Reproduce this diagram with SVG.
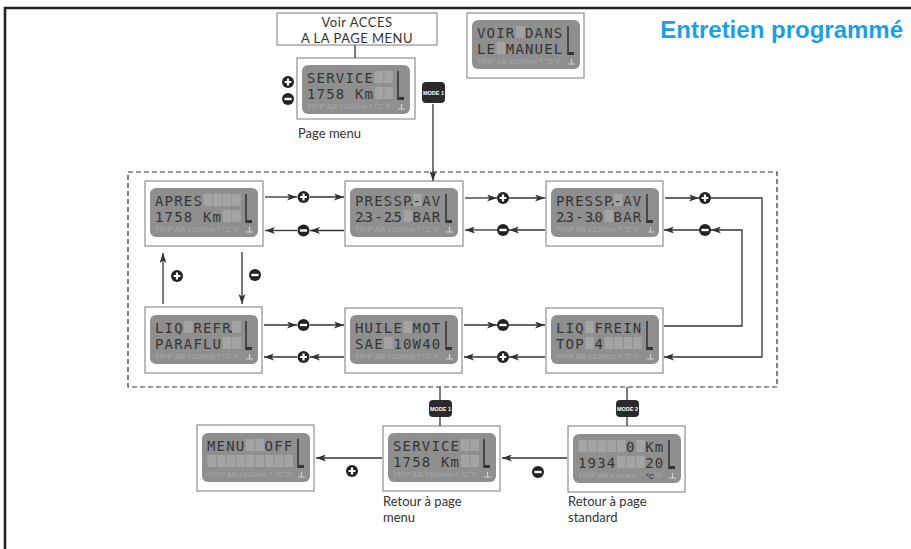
<svg xmlns="http://www.w3.org/2000/svg" xmlns:xlink="http://www.w3.org/1999/xlink" width="911" height="549" viewBox="0 0 911 549">
<style>
.frame{fill:#fff;stroke:#7a7a7a;stroke-width:1}
.lcdbg{fill:#8f8f8f}
.seg{font-family:"DejaVu Sans Mono",monospace;font-size:14px;letter-spacing:1.17px;fill:#353535}
.blk{fill:#a4a4a4}
.dot{fill:#353535}
.faint{font-family:"Liberation Sans",Arial,sans-serif;font-size:6.5px;fill:#a9a9a9}
.lbl{font-family:Lato,"Open Sans",sans-serif;font-size:13px;fill:#333}
.lbl2{font-family:Lato,"Open Sans",sans-serif;font-size:13px;letter-spacing:0.5px;fill:#333}
.ln{stroke:#333;stroke-width:1.3;fill:none}
.arr{marker-end:url(#ah)}
.btn{fill:#2b2b2b}
.btxt{font-family:"Liberation Sans",Arial,sans-serif;font-size:5.5px;font-weight:bold;fill:#fff;text-anchor:middle}
.title{font-family:"Liberation Sans",Arial,sans-serif;font-size:24px;font-weight:bold;fill:#1c9fe3}
</style>
<defs>
<marker id="ah" viewBox="0 0 10 7" refX="10" refY="3.5" markerWidth="10" markerHeight="7" orient="auto" markerUnits="userSpaceOnUse">
<path d="M0,0 L10,3.5 L0,7 L2.5,3.5 z" fill="#333"/>
</marker>
<g id="lcd">
<rect class="lcdbg" x="0" y="0" width="108" height="49" rx="6"/>
<path d="M96,6 V35" stroke="#353535" stroke-width="1.6" fill="none"/>
<rect x="96" y="32" width="6" height="3" fill="#353535"/>
<text class="faint" x="5" y="44" textLength="84" lengthAdjust="spacingAndGlyphs">TRIP AB l/100km * °C°F</text>
<path d="M96,44 H103 M99.5,39 V44" stroke="#d0d0d0" stroke-width="1.2" fill="none"/>
</g>
<g id="plus"><circle r="6" fill="#222"/><path d="M-3.4,0 H3.4 M0,-3.4 V3.4" stroke="#fff" stroke-width="2.2"/></g>
<g id="minus"><circle r="6" fill="#222"/><path d="M-3.6,0 H3.6" stroke="#fff" stroke-width="2.4"/></g>
</defs>

<rect width="911" height="549" fill="#fff"/>
<path d="M5,549 V8 H911" stroke="#222" stroke-width="2.6" fill="none"/>

<text class="title" x="903" y="38" text-anchor="end">Entretien programmé</text>

<g id="group-frame">
<rect x="128" y="172" width="649" height="215" fill="none" stroke="#333" stroke-width="1.2" stroke-dasharray="5,3"/>
</g>

<g id="n-voir-acces">
<rect class="frame" x="277" y="13" width="160" height="32"/>
<text class="lbl2" x="357" y="27" text-anchor="middle">Voir ACCES</text>
<text class="lbl2" x="357" y="43" text-anchor="middle">A LA PAGE MENU</text>
</g>

<g id="n-page-menu">
<rect class="frame" x="297" y="58" width="118" height="61"/>
<g transform="translate(302,65)">
<use href="#lcd"/>
<rect class="blk" x="72.7" y="6" width="8.6" height="12"/><rect class="blk" x="82.3" y="6" width="8.6" height="12"/>
<rect class="blk" x="72.7" y="22" width="8.6" height="12"/><rect class="blk" x="82.3" y="22" width="8.6" height="12"/>
<text class="seg" x="5" y="17.5">SERVICE</text>
<text class="seg" x="5" y="33.5" xml:space="preserve">1758 Km</text>
</g>
<text class="lbl" x="298" y="138">Page menu</text>
</g>

<g id="n-voir-manuel">
<rect class="frame" x="467" y="13" width="117" height="65"/>
<g transform="translate(472,20)">
<use href="#lcd"/>
<rect class="blk" x="43.9" y="6" width="8.6" height="12"/>
<rect class="blk" x="24.7" y="22" width="8.6" height="12"/>
<text class="seg" x="5" y="17.5" xml:space="preserve">VOIR DANS</text>
<text class="seg" x="5" y="33.5" xml:space="preserve">LE MANUEL</text>
</g>
</g>

<g id="n-mode1-top">
<rect class="btn" x="422" y="82" width="23" height="21" rx="4"/>
<text class="btxt" x="433.5" y="94.5">MODE 1</text>
</g>

<g id="n-apres">
<rect class="frame" x="145" y="181" width="118" height="65"/>
<g transform="translate(150,188)">
<use href="#lcd"/>
<rect class="blk" x="53.5" y="6" width="8.6" height="12"/><rect class="blk" x="63.1" y="6" width="8.6" height="12"/><rect class="blk" x="72.7" y="6" width="8.6" height="12"/><rect class="blk" x="82.3" y="6" width="8.6" height="12"/>
<rect class="blk" x="72.7" y="22" width="8.6" height="12"/><rect class="blk" x="82.3" y="22" width="8.6" height="12"/>
<text class="seg" x="5" y="17.5">APRES</text>
<text class="seg" x="5" y="33.5" xml:space="preserve">1758 Km</text>
</g>
</g>

<g id="n-pressp-av-1">
<rect class="frame" x="345" y="181" width="118" height="65"/>
<g transform="translate(350,188)">
<use href="#lcd"/>
<rect class="blk" x="63.1" y="6" width="8.6" height="12"/>
<rect class="blk" x="53.5" y="22" width="8.6" height="12"/>
<text class="seg" x="5" y="17.5">PRESSP-AV</text>
<rect class="dot" x="61" y="15.8" width="1.8" height="1.8"/>
<text class="seg" x="5" y="33.5" xml:space="preserve">23-25 BAR</text>
<rect class="dot" x="13" y="31.8" width="1.8" height="1.8"/><rect class="dot" x="41.8" y="31.8" width="1.8" height="1.8"/>
</g>
</g>

<g id="n-pressp-av-2">
<rect class="frame" x="546" y="181" width="117" height="65"/>
<g transform="translate(551,188)">
<use href="#lcd"/>
<rect class="blk" x="63.1" y="6" width="8.6" height="12"/>
<rect class="blk" x="53.5" y="22" width="8.6" height="12"/>
<text class="seg" x="5" y="17.5">PRESSP-AV</text>
<rect class="dot" x="61" y="15.8" width="1.8" height="1.8"/>
<text class="seg" x="5" y="33.5" xml:space="preserve">23-30 BAR</text>
<rect class="dot" x="13" y="31.8" width="1.8" height="1.8"/><rect class="dot" x="41.8" y="31.8" width="1.8" height="1.8"/>
</g>
</g>

<g id="n-liq-refr">
<rect class="frame" x="145" y="307" width="117" height="66"/>
<g transform="translate(150,315)">
<use href="#lcd"/>
<rect class="blk" x="34.3" y="6" width="8.6" height="12"/><rect class="blk" x="82.3" y="6" width="8.6" height="12"/>
<rect class="blk" x="72.7" y="22" width="8.6" height="12"/><rect class="blk" x="82.3" y="22" width="8.6" height="12"/>
<text class="seg" x="5" y="17.5" xml:space="preserve">LIQ REFR</text>
<rect class="dot" x="80.2" y="15.8" width="1.8" height="1.8"/>
<text class="seg" x="5" y="33.5">PARAFLU</text>
</g>
</g>

<g id="n-huile-mot">
<rect class="frame" x="345" y="308" width="117" height="65"/>
<g transform="translate(350,315)">
<use href="#lcd"/>
<rect class="blk" x="53.5" y="6" width="8.6" height="12"/>
<rect class="blk" x="34.3" y="22" width="8.6" height="12"/>
<text class="seg" x="5" y="17.5" xml:space="preserve">HUILE MOT</text>
<text class="seg" x="5" y="33.5" xml:space="preserve">SAE 10W40</text>
</g>
</g>

<g id="n-liq-frein">
<rect class="frame" x="546" y="308" width="117" height="65"/>
<g transform="translate(551,315)">
<use href="#lcd"/>
<rect class="blk" x="34.3" y="6" width="8.6" height="12"/>
<rect class="blk" x="34.3" y="22" width="8.6" height="12"/><rect class="blk" x="53.5" y="22" width="8.6" height="12"/><rect class="blk" x="63.1" y="22" width="8.6" height="12"/><rect class="blk" x="72.7" y="22" width="8.6" height="12"/><rect class="blk" x="82.3" y="22" width="8.6" height="12"/>
<text class="seg" x="5" y="17.5" xml:space="preserve">LIQ FREIN</text>
<text class="seg" x="5" y="33.5" xml:space="preserve">TOP 4</text>
</g>
</g>

<g id="n-mode1-bottom">
<rect class="btn" x="429" y="400" width="23" height="17" rx="4"/>
<text class="btxt" x="440.5" y="410.5">MODE 1</text>
</g>

<g id="n-mode2">
<rect class="btn" x="616" y="400" width="23" height="17" rx="4"/>
<text class="btxt" x="627.5" y="410.5">MODE 2</text>
</g>

<g id="n-menu-off">
<rect class="frame" x="197" y="425" width="117" height="66"/>
<g transform="translate(202,433)">
<use href="#lcd"/>
<rect class="blk" x="43.9" y="6" width="8.6" height="12"/><rect class="blk" x="53.5" y="6" width="8.6" height="12"/>
<rect class="blk" x="5.5" y="22" width="8.6" height="12"/><rect class="blk" x="15.1" y="22" width="8.6" height="12"/><rect class="blk" x="24.7" y="22" width="8.6" height="12"/><rect class="blk" x="34.3" y="22" width="8.6" height="12"/><rect class="blk" x="43.9" y="22" width="8.6" height="12"/><rect class="blk" x="53.5" y="22" width="8.6" height="12"/><rect class="blk" x="63.1" y="22" width="8.6" height="12"/><rect class="blk" x="72.7" y="22" width="8.6" height="12"/><rect class="blk" x="82.3" y="22" width="8.6" height="12"/>
<text class="seg" x="5" y="17.5" xml:space="preserve">MENU  OFF</text>
</g>
</g>

<g id="n-service-retour">
<rect class="frame" x="383" y="426" width="117" height="65"/>
<g transform="translate(388,433)">
<use href="#lcd"/>
<rect class="blk" x="72.7" y="6" width="8.6" height="12"/><rect class="blk" x="82.3" y="6" width="8.6" height="12"/>
<rect class="blk" x="72.7" y="22" width="8.6" height="12"/><rect class="blk" x="82.3" y="22" width="8.6" height="12"/>
<text class="seg" x="5" y="17.5">SERVICE</text>
<text class="seg" x="5" y="33.5" xml:space="preserve">1758 Km</text>
</g>
<text class="lbl" x="383" y="506">Retour à page</text>
<text class="lbl" x="383" y="522">menu</text>
</g>

<g id="n-standard">
<rect class="frame" x="568" y="426" width="117" height="66"/>
<g transform="translate(573,434)">
<use href="#lcd"/>
<rect class="blk" x="5.5" y="6" width="8.6" height="12"/><rect class="blk" x="15.1" y="6" width="8.6" height="12"/><rect class="blk" x="24.7" y="6" width="8.6" height="12"/><rect class="blk" x="34.3" y="6" width="8.6" height="12"/><rect class="blk" x="43.9" y="6" width="8.6" height="12"/><rect class="blk" x="63.1" y="6" width="8.6" height="12"/>
<rect class="blk" x="43.9" y="22" width="8.6" height="12"/><rect class="blk" x="53.5" y="22" width="8.6" height="12"/><rect class="blk" x="63.1" y="22" width="8.6" height="12"/>
<text class="seg" x="5" y="17.5" xml:space="preserve">     0 Km</text>
<text class="seg" x="5" y="33.5" xml:space="preserve">1934   20</text>
<text x="73" y="44.5" font-family="Liberation Sans,Arial,sans-serif" font-size="7" font-weight="bold" fill="#353535">°C</text>
</g>
<text class="lbl" x="568" y="506">Retour à page</text>
<text class="lbl" x="568" y="522">standard</text>
</g>

<g id="connectors" class="ln">
<line x1="355" y1="45" x2="355" y2="58"/>
<line class="arr" x1="433" y1="104" x2="433" y2="181"/>
<line class="arr" x1="265" y1="197" x2="297" y2="197"/>
<line class="arr" x1="310" y1="197" x2="344" y2="197"/>
<line class="arr" x1="344" y1="230.5" x2="310" y2="230.5"/>
<line class="arr" x1="297" y1="230.5" x2="265" y2="230.5"/>
<line class="arr" x1="465" y1="198" x2="497" y2="198"/>
<line class="arr" x1="509" y1="198" x2="545" y2="198"/>
<line class="arr" x1="545" y1="230" x2="509" y2="230"/>
<line class="arr" x1="497" y1="230" x2="465" y2="230"/>
<line class="arr" x1="665" y1="198" x2="699" y2="198"/>
<path class="arr" d="M711,198 H762 V357 H664"/>
<path class="arr" d="M664,326 H742 V230 H711"/>
<line class="arr" x1="699" y1="230" x2="664" y2="230"/>
<line class="arr" x1="163" y1="304" x2="163" y2="253"/>
<line class="arr" x1="242" y1="252" x2="242" y2="304"/>
<line class="arr" x1="264" y1="325" x2="297" y2="325"/>
<line class="arr" x1="310" y1="325" x2="344" y2="325"/>
<line class="arr" x1="344" y1="357" x2="310" y2="357"/>
<line class="arr" x1="297" y1="357" x2="264" y2="357"/>
<line class="arr" x1="464" y1="325" x2="497" y2="325"/>
<line class="arr" x1="509" y1="325" x2="545" y2="325"/>
<line class="arr" x1="545" y1="357" x2="509" y2="357"/>
<line class="arr" x1="497" y1="357" x2="464" y2="357"/>
<line x1="440" y1="387" x2="440" y2="400"/>
<line x1="440" y1="417" x2="440" y2="426"/>
<line x1="627" y1="387" x2="627" y2="400"/>
<line x1="627" y1="417" x2="627" y2="426"/>
<line class="arr" x1="567" y1="458" x2="502" y2="458"/>
<line class="arr" x1="382" y1="458" x2="316" y2="458"/>
</g>

<g id="connector-labels">
<use href="#plus" x="288" y="82"/>
<use href="#minus" x="288" y="99"/>
<use href="#plus" x="303.5" y="197"/>
<use href="#minus" x="303.5" y="230.5"/>
<use href="#plus" x="503" y="198"/>
<use href="#minus" x="503" y="230"/>
<use href="#plus" x="705" y="198"/>
<use href="#minus" x="705" y="230"/>
<use href="#plus" x="177" y="276"/>
<use href="#minus" x="255" y="275"/>
<use href="#minus" x="303.5" y="325"/>
<use href="#plus" x="303.5" y="357"/>
<use href="#minus" x="503" y="325"/>
<use href="#plus" x="503" y="357"/>
<use href="#plus" x="352" y="471"/>
<use href="#minus" x="538" y="472"/>
</g>
</svg>
